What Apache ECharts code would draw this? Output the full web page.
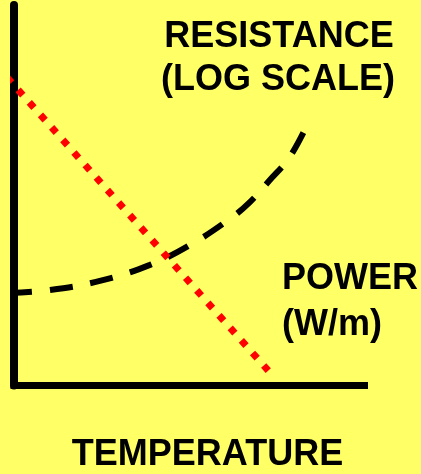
<!DOCTYPE html>
<html>
<head>
<meta charset="utf-8">
<script src="https://cdn.jsdelivr.net/npm/echarts@6/dist/echarts.min.js"></script>
<style>
  html, body { margin: 0; padding: 0; background: #ffff66; }
  #chart { width: 421px; height: 474px; }
</style>
</head>
<body>
<div id="chart"></div>
<script>
// resistance curve (log scale), arbitrary units 0-100
const resistX = [-1.4, 10.3, 24.5, 38.8, 50.2, 61.6, 67.3, 73.0, 78.7, 83.9]
const resistY = [24.3, 25.1, 27.5, 31.7, 36.9, 43.8, 48.2, 54.0, 60.1, 69.0]
// power line
const powerX = [-2.0, 72.55]
const powerY = [81.0, 3.9]
const labels = {
  resist: ['RESISTANCE', '(LOG SCALE)'],
  power: ['POWER', '(W/m)'],
  xName: 'TEMPERATURE'
}

const font = 'bold 36px "Liberation Sans", Arial, sans-serif'
function label(text, x, y, align) {
  return {
    type: 'text',
    x: x,
    y: y,
    z: 10,
    style: {
      text: text,
      font: font,
      fill: '#000',
      align: align || 'center',
      verticalAlign: 'middle'
    }
  }
}

const myChart = echarts.init(document.getElementById('chart'))
myChart.setOption({
  backgroundColor: '#ffff66',
  animation: false,
  grid: {
    left: 14,
    right: 56.5,
    top: 5,
    bottom: 88.5
  },
  xAxis: {
    type: 'value',
    min: 0,
    max: 100,
    axisLine: {
      lineStyle: { color: '#000', width: 7, cap: 'square' }
    },
    axisTick: { show: false },
    axisLabel: { show: false },
    splitLine: { show: false }
  },
  yAxis: {
    type: 'value',
    min: 0,
    max: 100,
    axisLine: {
      lineStyle: { color: '#000', width: 8 }
    },
    axisTick: { show: false },
    axisLabel: { show: false },
    splitLine: { show: false }
  },
  graphic: [
    label(labels.resist[0], 279, 37.5),
    label(labels.resist[1], 278, 80.5),
    label(labels.power[0], 282, 279.5, 'left'),
    label(labels.power[1], 282, 325, 'left'),
    label(labels.xName, 207.5, 455.5)
  ],
  series: [
    {
      name: 'resistance',
      type: 'line',
      smooth: 0.4,
      symbol: 'none',
      clip: false,
      z: 2,
      lineStyle: { color: '#000', width: 6, type: [23, 18], cap: 'butt' },
      data: resistX.map((x, i) => [x, resistY[i]])
    },
    {
      name: 'power',
      type: 'line',
      symbol: 'none',
      clip: false,
      z: 3,
      lineStyle: { color: '#ff0000', width: 7, type: [7, 9.78], cap: 'butt' },
      data: powerX.map((x, i) => [x, powerY[i]])
    }
  ]
})
</script>
</body>
</html>
